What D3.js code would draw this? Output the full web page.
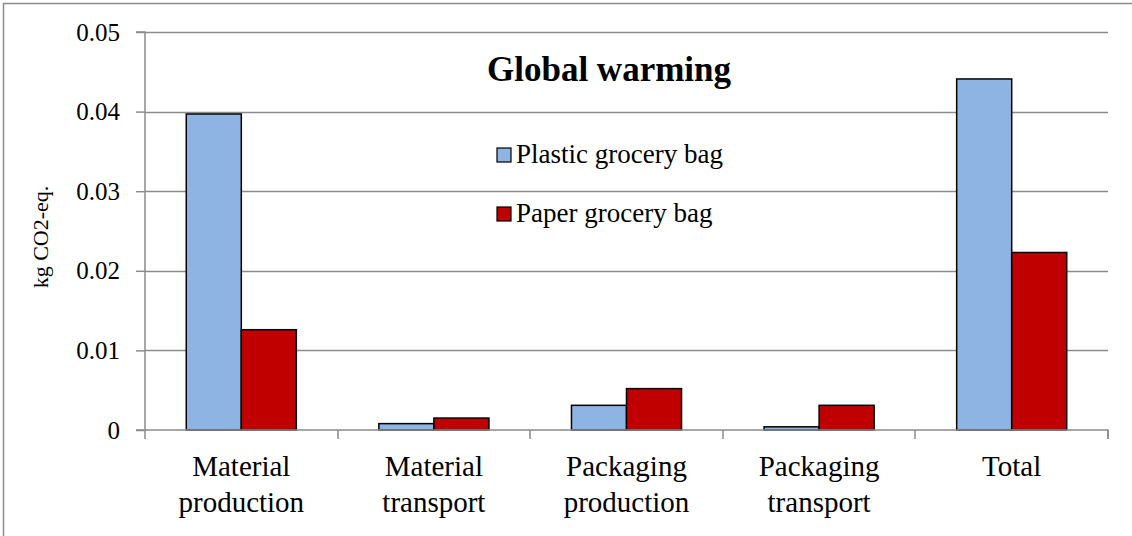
<!DOCTYPE html>
<html><head><meta charset="utf-8">
<script src="https://cdn.jsdelivr.net/npm/d3@7"></script>
<style>html,body{margin:0;padding:0;background:#fff;}svg{display:block;}</style>
</head><body>
<svg id="chart" width="1132" height="536"></svg>
<script>
const categories = [["Material","production"],["Material","transport"],["Packaging","production"],["Packaging","transport"],["Total"]];
const seriesNames = ["Plastic grocery bag","Paper grocery bag"];
const plasticValues = [0.0397, 0.0008, 0.0031, 0.0004, 0.0441];
const paperValues = [0.0126, 0.0015, 0.0052, 0.0031, 0.0223];
const yTicks = [0, 0.01, 0.02, 0.03, 0.04, 0.05];
const yTickLabels = ["0","0.01","0.02","0.03","0.04","0.05"];
const colors = ["#8EB4E3", "#C00000"];

(function(){
const svg = d3.select("#chart");
const font = "Liberation Serif, DejaVu Serif, Noto Serif, serif";
const pl = 145, pr = 1108, pt = 32, pb = 430;

// outer border
svg.append("rect").attr("x",3.5).attr("y",3.5).attr("width",1140).attr("height",540)
  .attr("fill","none").attr("stroke","#8c8c8c").attr("stroke-width",1.5);

const x = d3.scaleBand().domain(d3.range(categories.length)).range([pl,pr]).paddingInner(0).paddingOuter(0);
const y = d3.scaleLinear().domain([0,0.05]).range([pb,pt]);
const bw = x.bandwidth()/3.5;
const xs = d3.scaleBand().domain([0,1]).range([0, bw*2]);

// gridlines
svg.append("g").selectAll("line").data(yTicks.slice(1)).join("line")
  .attr("x1",pl).attr("x2",pr).attr("y1",d=>Math.round(y(d))+0.5).attr("y2",d=>Math.round(y(d))+0.5)
  .attr("stroke","#8c8c8c").attr("stroke-width",1.5);

// y axis
const yAxis = d3.axisLeft(y).tickValues(yTicks).tickFormat((d,i)=>yTickLabels[i]).tickSize(9).tickPadding(16);
const gy = svg.append("g").attr("transform",`translate(${pl},0)`).call(yAxis);
gy.select(".domain").attr("stroke","#8c8c8c").attr("stroke-width",1.5).attr("d",`M-9,${pt}H0V${pb}H-9`);
gy.selectAll(".tick line").attr("stroke","#8c8c8c").attr("stroke-width",1.5);
gy.selectAll(".tick text").attr("font-family",font).attr("font-size",25).attr("fill","#000");

// bars
const allVals = [plasticValues, paperValues];
allVals.forEach((vals,si)=>{
  svg.append("g").selectAll("rect").data(vals).join("rect")
    .attr("x",(d,i)=>x(i)+bw*0.75+xs(si))
    .attr("y",d=>y(d))
    .attr("width",bw)
    .attr("height",d=>pb-y(d))
    .attr("fill",colors[si]).attr("stroke","#000").attr("stroke-width",1.5);
});

// x axis
const xAxis = d3.axisBottom(x).tickSize(0).tickFormat("");
const gx = svg.append("g").attr("transform",`translate(0,${pb})`).call(xAxis);
gx.select(".domain").attr("stroke","#8c8c8c").attr("stroke-width",1.5).attr("d",`M${pl},0H${pr}V9`);
gx.selectAll(".tick").remove();
svg.append("g").selectAll("line").data(d3.range(categories.length+1)).join("line")
  .attr("x1",i=>Math.round(pl+i*x.step())).attr("x2",i=>Math.round(pl+i*x.step()))
  .attr("y1",pb).attr("y2",pb+9).attr("stroke","#8c8c8c").attr("stroke-width",1.5);

// category labels
categories.forEach((lines,i)=>{
  const t = svg.append("text").attr("x",x(i)+x.bandwidth()/2).attr("text-anchor","middle")
    .attr("font-family",font).attr("font-size",29).attr("fill","#000");
  lines.forEach((l,j)=>t.append("tspan").attr("x",x(i)+x.bandwidth()/2).attr("y",476+j*36).text(l));
});

// y title
svg.append("text").attr("transform","translate(48,237) rotate(-90)").attr("text-anchor","middle")
  .attr("font-family",font).attr("font-size",22).attr("fill","#000").text("kg CO2-eq.");

// chart title
svg.append("text").attr("x",609).attr("y",81).attr("text-anchor","middle")
  .attr("font-family",font).attr("font-size",35).attr("font-weight","bold").attr("fill","#000").text("Global warming");

// legend
const legY = [155, 214];
seriesNames.forEach((n,i)=>{
  svg.append("rect").attr("x",497).attr("y",legY[i]-7).attr("width",14).attr("height",14)
    .attr("fill",colors[i]).attr("stroke","#000").attr("stroke-width",1.2);
  svg.append("text").attr("x",516).attr("y",legY[i]+8).attr("font-family",font).attr("font-size",27)
    .attr("fill","#000").text(n);
});
})();
</script>
</body></html>
